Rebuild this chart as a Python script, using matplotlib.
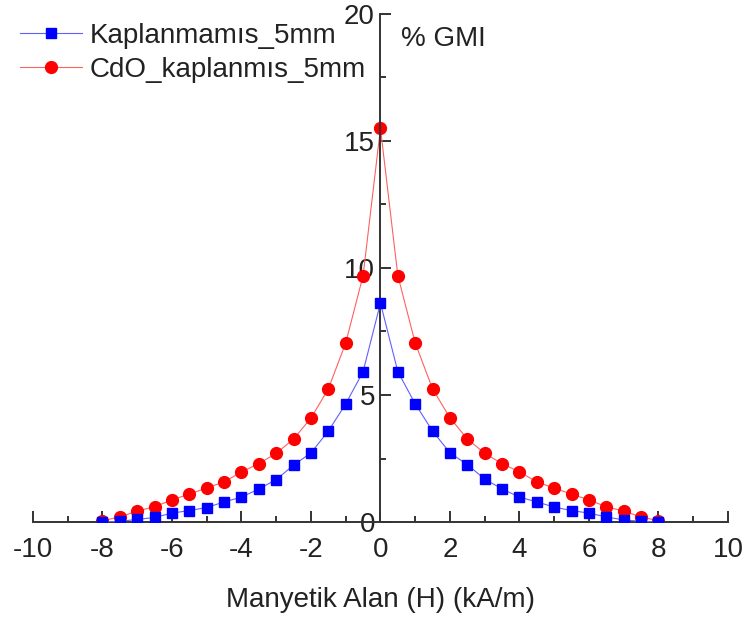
import numpy as np
import matplotlib.pyplot as plt
from matplotlib.ticker import MultipleLocator

plt.rcParams['font.family'] = ['Liberation Sans', 'DejaVu Sans']
plt.rcParams['axes.unicode_minus'] = False

# manyetik alan (kA/m)
H = [-8, -7.5, -7, -6.5, -6, -5.5, -5, -4.5, -4, -3.5, -3, -2.5, -2, -1.5, -1, -0.5,
     0, 0.5, 1, 1.5, 2, 2.5, 3, 3.5, 4, 4.5, 5, 5.5, 6, 6.5, 7, 7.5, 8]

# % GMI - kaplanmamis
gmi_bare = [0.0, 0.03, 0.1, 0.18, 0.35, 0.45, 0.57, 0.79, 0.98, 1.3, 1.67, 2.24, 2.72, 3.58, 4.65, 5.92,
            8.62, 5.92, 4.65, 3.58, 2.72, 2.26, 1.69, 1.3, 0.98, 0.79, 0.59, 0.45, 0.35, 0.2, 0.08, 0.03, 0.0]

# % GMI - CdO kaplanmis
gmi_cdo = [0.05, 0.2, 0.43, 0.6, 0.87, 1.1, 1.34, 1.58, 1.97, 2.3, 2.7, 3.27, 4.09, 5.24, 7.05, 9.7,
           15.5, 9.7, 7.05, 5.24, 4.1, 3.27, 2.7, 2.3, 1.97, 1.58, 1.33, 1.1, 0.87, 0.6, 0.43, 0.2, 0.05]

fig = plt.figure(figsize=(7.46, 6.19), dpi=100)
ax = fig.add_axes([0.0442, 0.1567, 0.9316, 0.8207])

# cizgi acik renk, isaretler tam renk
ax.plot(H, gmi_bare, color='#6060ff', lw=0.8, marker='s', ms=7, mec='#0000ff', mfc='#0000ff',
        label='Kaplanmamıs_5mm', zorder=3)
ax.plot(H, gmi_cdo, color='#ff6060', lw=0.8, marker='o', ms=8.5, mec='#ff0000', mfc='#ff0000',
        label='CdO_kaplanmıs_5mm', zorder=2)

ax.set_xlim(-10, 10)
ax.set_ylim(0, 20)

# eksenler: y ekseni x=0'da
ax.spines['top'].set_visible(False)
ax.spines['right'].set_visible(False)
ax.spines['left'].set_position(('data', 0))
for s in ['left', 'bottom']:
    ax.spines[s].set_color('#333333')
    ax.spines[s].set_linewidth(1.4)

ax.xaxis.set_major_locator(MultipleLocator(2))
ax.xaxis.set_minor_locator(MultipleLocator(1))
ax.yaxis.set_major_locator(MultipleLocator(5))
ax.yaxis.set_minor_locator(MultipleLocator(2.5))
ax.tick_params(which='both', direction='in', colors='#333333', width=1.4, labelsize=20,
               labelcolor='#222222')
ax.tick_params(which='major', length=8)
ax.tick_params(which='minor', length=4.5)
ax.tick_params(axis='x', pad=11)
ax.tick_params(axis='y', pad=4)

ax.set_xlabel('Manyetik Alan (H) (kA/m)', fontsize=20, color='#222222', labelpad=17)
ax.text(0.6, 19.0, '% GMI', fontsize=20, color='#222222', va='center', ha='left')

ax.legend(loc='upper left', bbox_to_anchor=(-0.034, 1.005), frameon=False, fontsize=20,
          handlelength=2.2, handletextpad=0.3, borderaxespad=0.0, labelspacing=0.3,
          labelcolor='#222222')

fig.savefig('out.png', dpi=100)
